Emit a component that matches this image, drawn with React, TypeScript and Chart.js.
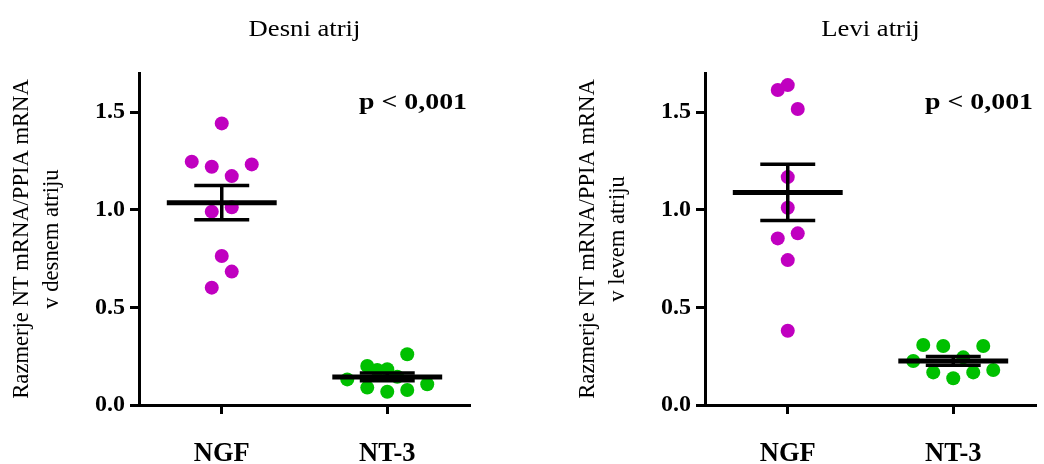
import React, { useEffect, useRef } from "react";
import { Chart, registerables } from "chart.js";

Chart.register(...registerables);

// ---------- data ----------
const categories = ["NGF", "NT-3"];
const yTicks = [0, 0.5, 1.0, 1.5];
const yMax = 1.7;
const panelTitles = ["Desni atrij", "Levi atrij"];
const yTitleLines = [
  ["Razmerje NT mRNA/PPIA mRNA", "v desnem atriju"],
  ["Razmerje NT mRNA/PPIA mRNA", "v levem atriju"],
];
const pValueLabel = "p < 0,001";

// Desni atrij (right atrium)
const desniNGF = [1.442, 1.246, 1.22, 1.232, 1.172, 0.99, 1.012, 0.763, 0.683, 0.601];
const desniNGFSpread = [0, -3, -1, 3, 1, -1, 1, 0, 1, -1];
const desniNT3 = [0.131, 0.2, 0.089, 0.179, 0.183, 0.068, 0.145, 0.26, 0.077, 0.106];
const desniNT3Spread = [-4, -2, -2, -1, 0, 0, 1, 2, 2, 4];

// Levi atrij (left atrium)
const leviNGF = [1.638, 1.613, 1.516, 1.167, 1.01, 0.879, 0.853, 0.742, 0.38];
const leviNGFSpread = [0, -1, 1, 0, 0, 1, -1, 0, 0];
const leviNT3 = [0.307, 0.302, 0.302, 0.244, 0.225, 0.167, 0.137, 0.167, 0.179];
const leviNT3Spread = [-3, -1, 3, 1, -4, -2, 0, 2, 4];

const panels = [
  { title: panelTitles[0], yTitle: yTitleLines[0], groups: [[desniNGF, desniNGFSpread], [desniNT3, desniNT3Spread]] },
  { title: panelTitles[1], yTitle: yTitleLines[1], groups: [[leviNGF, leviNGFSpread], [leviNT3, leviNT3Spread]] },
];

// ---------- style ----------
const FONT = "'Liberation Serif', 'Times New Roman', serif";
const groupColors = ["#C000C0", "#00C000"];
const CANVAS_W = 522;
const CANVAS_H = 464;
const Y_AXIS_W = 139;
const X_AXIS_H = 59;
const PAD_TOP = 73;
const SLOT = 0.0604; // horizontal spacing between dots (x units)
const MEAN_HALF = 0.332;
const CAP_HALF = 0.166;
const paddings = [
  { left: 0, right: 52, top: PAD_TOP, bottom: 0 },
  { left: 44, right: 8, top: PAD_TOP, bottom: 0 },
];

function groupDatasets(values: number[], spread: number[], center: number, color: string) {
  const n = values.length;
  const mean = values.reduce((a, b) => a + b, 0) / n;
  const sd = Math.sqrt(values.reduce((a, v) => a + (v - mean) ** 2, 0) / (n - 1));
  const sem = sd / Math.sqrt(n);
  const seg = (x1: number, y1: number, x2: number, y2: number, w: number) => ({
    type: "line" as const,
    data: [
      { x: x1, y: y1 },
      { x: x2, y: y2 },
    ],
    borderColor: "#000",
    borderWidth: w,
    pointRadius: 0,
    borderCapStyle: "butt",
    tension: 0,
    order: 0,
    clip: false,
  });
  return [
    {
      type: "scatter" as const,
      data: values.map((v, i) => ({ x: center + spread[i] * SLOT, y: v })),
      backgroundColor: color,
      borderWidth: 0,
      pointRadius: 7,
      pointHoverRadius: 7,
      order: 1,
    },
    seg(center - MEAN_HALF, mean, center + MEAN_HALF, mean, 5),
    seg(center, mean - sem, center, mean + sem, 3.5),
    seg(center - CAP_HALF, mean + sem, center + CAP_HALF, mean + sem, 3.5),
    seg(center - CAP_HALF, mean - sem, center + CAP_HALF, mean - sem, 3.5),
  ];
}

function wideText(ctx: CanvasRenderingContext2D, text: string, x: number, y: number, sx: number) {
  ctx.save();
  ctx.translate(x, y);
  ctx.scale(sx, 1);
  ctx.fillText(text, 0, 0);
  ctx.restore();
}

const textPlugin = {
  id: "panelText",
  afterDraw(chart: any, _args: any, opts: any) {
    const { ctx, chartArea } = chart;
    ctx.save();
    ctx.fillStyle = "#000";
    ctx.textBaseline = "alphabetic";
    // panel title
    ctx.font = `23px ${FONT}`;
    ctx.textAlign = "center";
    wideText(ctx, opts.title, (chartArea.left + chartArea.right) / 2, 36, 1.16);
    // p value
    ctx.font = `bold 24px ${FONT}`;
    ctx.textAlign = "right";
    wideText(ctx, pValueLabel, chartArea.right - 3, 109, 1.16);
    // y axis title
    ctx.font = `22.6px ${FONT}`;
    ctx.textAlign = "center";
    const cy = (chartArea.top + chartArea.bottom) / 2;
    opts.yTitle.forEach((line: string, i: number) => {
      ctx.save();
      ctx.translate(chartArea.left - 111 + i * 30, cy);
      ctx.rotate(-Math.PI / 2);
      ctx.fillText(line, 0, 0);
      ctx.restore();
    });
    ctx.restore();
  },
};

function Panel({ index }: { index: number }) {
  const ref = useRef<HTMLCanvasElement | null>(null);
  useEffect(() => {
    const p = panels[index];
    const datasets: any[] = [];
    p.groups.forEach(([vals, spread], gi) => {
      datasets.push(...groupDatasets(vals as number[], spread as number[], gi + 0.5, groupColors[gi]));
    });
    const chart = new Chart(ref.current as HTMLCanvasElement, {
      type: "scatter",
      data: { datasets },
      plugins: [textPlugin],
      options: {
        animation: false,
        responsive: false,
        devicePixelRatio: 1,
        layout: { padding: paddings[index] },
        plugins: {
          legend: { display: false },
          tooltip: { enabled: false },
          panelText: { title: p.title, yTitle: p.yTitle },
        } as any,
        scales: {
          x: {
            type: "linear",
            min: 0,
            max: categories.length,
            afterFit: (s: any) => {
              s.height = X_AXIS_H;
            },
            afterBuildTicks: (s: any) => {
              s.ticks = categories.map((_, i) => ({ value: i + 0.5 }));
            },
            ticks: {
              callback: (_v: any, i: number) => categories[i],
              color: "#000",
              padding: 24,
              font: { family: FONT, size: 26.5, weight: "bold" },
            },
            grid: { drawOnChartArea: false, drawTicks: true, tickLength: 9, tickWidth: 3, tickColor: "#000" },
            border: { display: true, color: "#000", width: 3 },
          },
          y: {
            type: "linear",
            min: 0,
            max: yMax,
            afterFit: (s: any) => {
              s.width = Y_AXIS_W;
            },
            afterBuildTicks: (s: any) => {
              s.ticks = yTicks.map((v) => ({ value: v }));
            },
            ticks: {
              callback: (v: any) => Number(v).toFixed(1),
              color: "#000",
              padding: 5,
              font: { family: FONT, size: 24, weight: "bold" },
            },
            grid: { drawOnChartArea: false, drawTicks: true, tickLength: 9, tickWidth: 3, tickColor: "#000" },
            border: { display: true, color: "#000", width: 3 },
          },
        },
      } as any,
    });
    return () => chart.destroy();
  }, [index]);
  return <canvas ref={ref} width={CANVAS_W} height={CANVAS_H} style={{ display: "block", width: CANVAS_W, height: CANVAS_H }} />;
}

export default function App() {
  return (
    <div
      style={{
        position: "fixed",
        left: 0,
        top: 0,
        width: 1044,
        height: 464,
        background: "#fff",
        display: "flex",
      }}
    >
      <Panel index={0} />
      <Panel index={1} />
    </div>
  );
}
